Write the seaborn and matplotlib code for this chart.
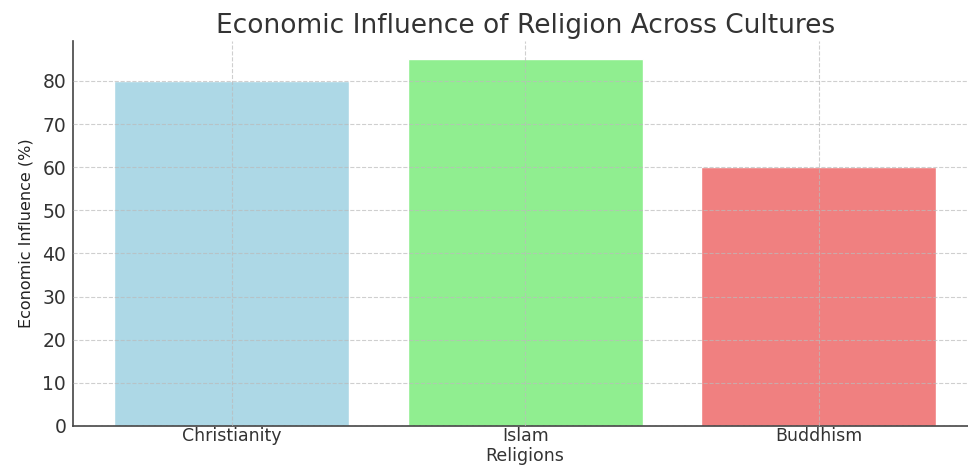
import numpy as np
import pandas as pd
import matplotlib
matplotlib.use("Agg")
import matplotlib.pyplot as plt
import seaborn as sns

# data
religions = ["Christianity", "Islam", "Buddhism"]
influence = [80, 85, 60]
bar_colors = ["lightblue", "lightgreen", "lightcoral"]

df = pd.DataFrame({"religion": religions, "influence": influence})

sns.set_style("white")
plt.rcParams["font.family"] = ["DejaVu Sans"]
text_color = "#333333"

fig = plt.figure(figsize=(9.68, 4.67), dpi=100)
# axes runs a little past the right edge, as in the reference
ax = fig.add_axes([0.0755, 0.088, 0.934, 0.824])

sns.barplot(data=df, x="religion", y="influence", hue="religion",
            palette=bar_colors, width=0.8, legend=False, ax=ax,
            saturation=1)

ax.set_xlim(-0.54, 2.54)
ax.set_ylim(0, 89.25)
ax.set_yticks(np.arange(0, 90, 10))

ax.grid(True, linestyle="--", color="#bbbbbb", alpha=0.7, linewidth=0.8)
ax.set_axisbelow(False)

for side in ["top", "right"]:
    ax.spines[side].set_visible(False)
for side in ["left", "bottom"]:
    ax.spines[side].set_color("#444444")
    ax.spines[side].set_linewidth(1.2)

ax.tick_params(axis="both", direction="in", length=4, color="#444444",
               labelcolor=text_color)
ax.tick_params(axis="y", labelsize=13.5, pad=5)
ax.tick_params(axis="x", labelsize=12.5, pad=1)

ax.set_title("Economic Influence of Religion Across Cultures",
             fontsize=19, color=text_color, pad=6)
ax.set_xlabel("Religions", fontsize=12.5, color=text_color, labelpad=1)
ax.set_ylabel("Economic Influence (%)", fontsize=11.5, color="#222222", labelpad=6)

fig.savefig("out.png", dpi=100)
